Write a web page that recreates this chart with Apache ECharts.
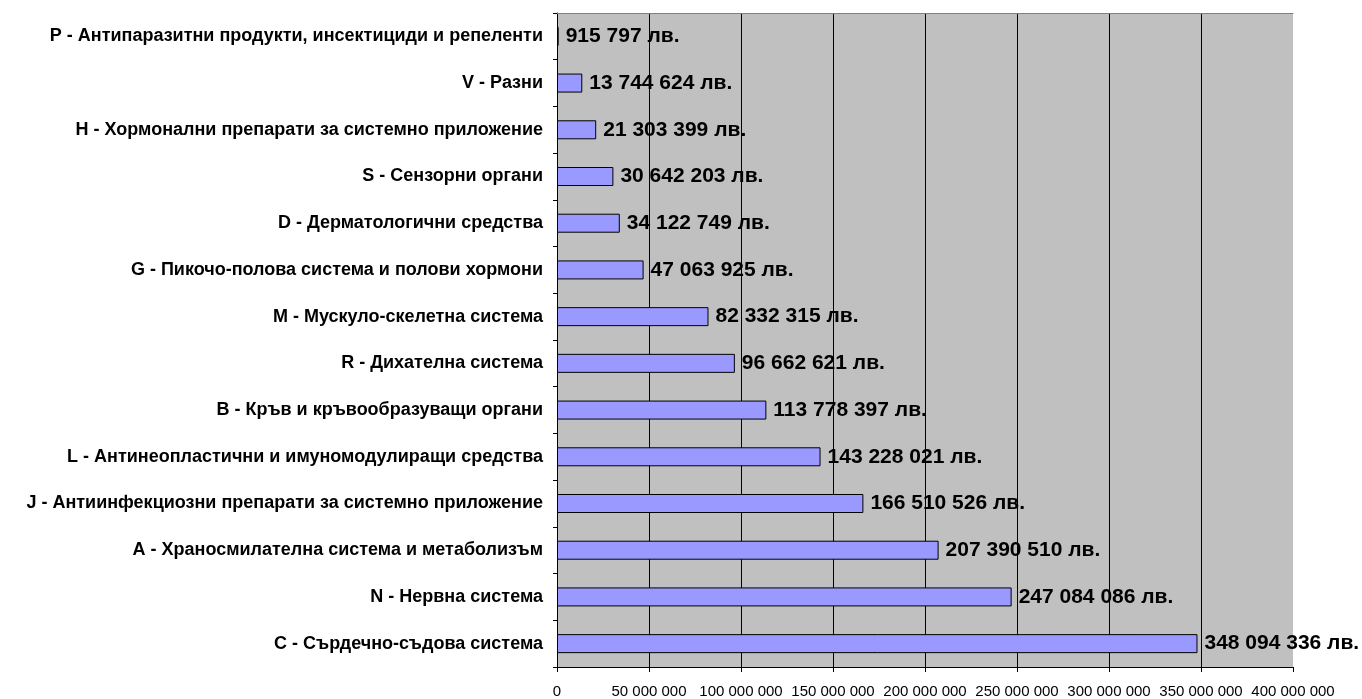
<!DOCTYPE html>
<html><head><meta charset="utf-8">
<script src="https://cdn.jsdelivr.net/npm/echarts@6/dist/echarts.min.js"></script>
<style>html,body{margin:0;padding:0;background:#fff}#c{width:1362px;height:699px}</style>
</head><body><div id="c"></div>
<script>
const categories = [
  "P - Антипаразитни продукти, инсектициди и репеленти",
  "V - Разни",
  "H - Хормонални препарати за системно приложение",
  "S - Сензорни органи",
  "D - Дерматологични средства",
  "G - Пикочо-полова система и полови хормони",
  "M - Мускуло-скелетна система",
  "R - Дихателна система",
  "B - Кръв и кръвообразуващи органи",
  "L - Антинеопластични и имуномодулиращи средства",
  "J - Антиинфекциозни препарати за системно приложение",
  "A - Храносмилателна система и метаболизъм",
  "N - Нервна система",
  "C - Сърдечно-съдова система"
];
const values = [915797, 13744624, 21303399, 30642203, 34122749, 47063925, 82332315, 96662621, 113778397, 143228021, 166510526, 207390510, 247084086, 348094336];
const xTicks = [0, 50000000, 100000000, 150000000, 200000000, 250000000, 300000000, 350000000, 400000000];

function fmt(v){ return String(v).replace(/\B(?=(\d{3})+(?!\d))/g, ' '); }

const chart = echarts.init(document.getElementById('c'), null, {renderer:'canvas'});
chart.setOption({
  animation: false,
  textStyle: {fontFamily: 'Liberation Sans, Arial, sans-serif'},
  grid: {left: 557, right: 69, top: 13, bottom: 31, show: true, backgroundColor: '#C0C0C0', borderWidth: 0},
  xAxis: [{
    type: 'value', min: xTicks[0], max: xTicks[xTicks.length-1], interval: 50000000,
    axisLine: {show: true, lineStyle: {color: '#000', width: 1}},
    axisTick: {show: true, length: 5, lineStyle: {color: '#000'}},
    axisLabel: {color: '#000', fontSize: 15, margin: 17, formatter: v => fmt(v)},
    splitLine: {show: true, showMinLine: false, showMaxLine: false, lineStyle: {color: '#000', width: 1}}
  }, {
    type: 'value', position: 'top', min: 0, max: 400000000,
    axisLine: {show: true, lineStyle: {color: '#808080', width: 1}},
    axisTick: {show: false}, axisLabel: {show: false}, splitLine: {show: false}
  }],
  yAxis: {
    type: 'category', data: categories, inverse: true,
    axisLine: {show: true, lineStyle: {color: '#000', width: 1}},
    axisTick: {show: true, length: 4, lineStyle: {color: '#000'}},
    axisLabel: {color: '#000', fontSize: 18, fontWeight: 'bold', margin: 14}
  },
  series: [{
    type: 'bar', data: values, barWidth: 19, xAxisIndex: 0,
    itemStyle: {color: '#9999FF', borderColor: '#000', borderWidth: 1},
    label: {show: true, position: 'right', distance: 7, color: '#000', fontSize: 21, fontWeight: 'bold',
      formatter: p => fmt(p.value) + ' лв.'}
  }]
});
</script></body></html>
